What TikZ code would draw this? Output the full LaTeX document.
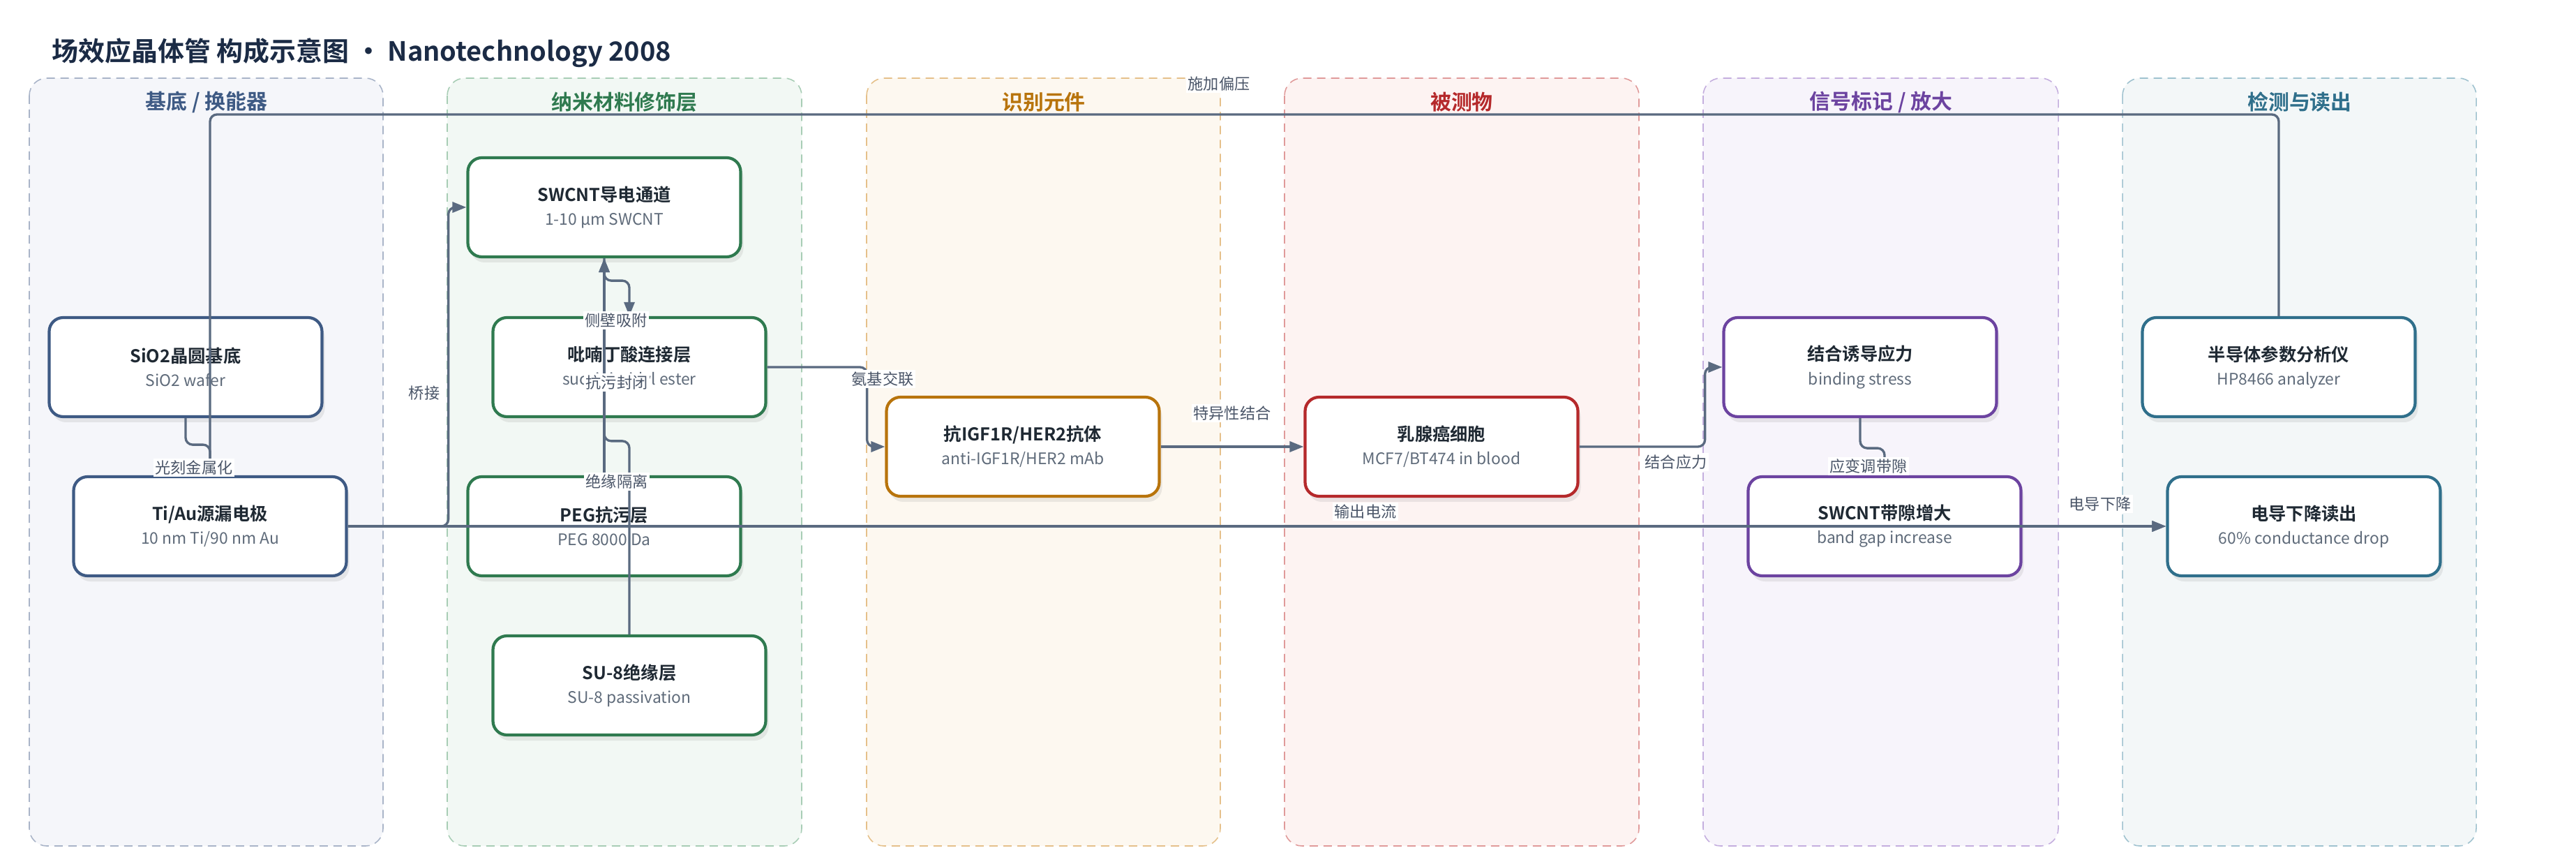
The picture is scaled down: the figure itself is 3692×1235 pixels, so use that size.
\documentclass[tikz,border=0pt]{standalone}
\usepackage{fontspec}
\setmainfont{Noto Sans CJK SC}[BoldFont={Noto Sans CJK SC Bold}]
\usetikzlibrary{arrows.meta,shadows}

\definecolor{titlec}{RGB}{27,43,69}
\definecolor{textc}{RGB}{31,41,51}
\definecolor{subc}{RGB}{95,107,122}
\definecolor{lblc}{RGB}{74,85,104}
\definecolor{edgec}{RGB}{90,106,128}
\definecolor{bluec}{RGB}{62,90,132}
\definecolor{blueb}{RGB}{169,180,200}
\definecolor{bluef}{RGB}{245,246,250}
\definecolor{greenc}{RGB}{47,122,79}
\definecolor{greenb}{RGB}{168,205,181}
\definecolor{greenf}{RGB}{242,248,244}
\definecolor{orangec}{RGB}{184,116,12}
\definecolor{orangeb}{RGB}{229,192,138}
\definecolor{orangef}{RGB}{253,248,240}
\definecolor{redc}{RGB}{181,41,43}
\definecolor{redb}{RGB}{224,154,154}
\definecolor{redf}{RGB}{253,243,242}
\definecolor{purplec}{RGB}{108,67,160}
\definecolor{purpleb}{RGB}{196,174,222}
\definecolor{purplef}{RGB}{247,244,251}
\definecolor{tealc}{RGB}{47,111,139}
\definecolor{tealb}{RGB}{159,194,207}
\definecolor{tealf}{RGB}{243,247,248}

\newcommand{\boxtext}[2]{{\fontsize{7.2}{9.7}\selectfont\bfseries\color{textc}#1}\\{\color{subc}#2}}

\tikzset{
  lane/.style n args={2}{draw=#1, fill=#2, line width=0.45pt, rounded corners=2.5mm,
    dash pattern=on 1.2mm off 0.8mm},
  lanetitle/.style={font=\fontsize{8.5}{10}\selectfont\bfseries, text=#1},
  box/.style={draw=#1, fill=white, line width=1.2pt, rounded corners=2mm,
    minimum width=39.1mm, minimum height=14.2mm, align=center,
    font=\fontsize{6.5}{9.7}\selectfont,
    drop shadow={opacity=0.15, shadow xshift=0.4mm, shadow yshift=-0.8mm}},
  edge/.style={draw=edgec, line width=0.95pt, rounded corners=1mm,
    -{Triangle[length=2mm,width=1.5mm]}},
  lbl/.style={font=\fontsize{6.3}{7}\selectfont, text=lblc, fill=white, inner sep=0.3mm}
}

\begin{document}
\begin{tikzpicture}[x=0.1mm,y=-0.1mm]
  \useasboundingbox (0,0) rectangle (3692,1235);
  % lanes
  \draw[lane={blueb}{bluef}] (42,112) rectangle (549,1212);
  \draw[lane={greenb}{greenf}] (641,112) rectangle (1149,1212);
  \draw[lane={orangeb}{orangef}] (1242,112) rectangle (1749,1212);
  \draw[lane={redb}{redf}] (1841,112) rectangle (2349,1212);
  \draw[lane={purpleb}{purplef}] (2441,112) rectangle (2950,1212);
  \draw[lane={tealb}{tealf}] (3042,112) rectangle (3549,1212);
  \node[lanetitle=bluec] (t1) at (296,146) {基底 / 换能器};
  \node[lanetitle=greenc] (t2) at (895,146) {纳米材料修饰层};
  \node[lanetitle=orangec] (t3) at (1496,146) {识别元件};
  \node[lanetitle=redc] (t4) at (2095,146) {被测物};
  \node[lanetitle=purplec] (t5) at (2696,146) {信号标记 / 放大};
  \node[lanetitle=tealc] (t6) at (3296,146) {检测与读出};

  \node[anchor=west, text=titlec, font=\fontsize{10.8}{12}\selectfont\bfseries] (title) at (62,76)
    {场效应晶体管 构成示意图 · Nanotechnology 2008};

  % boxes
  \node[box=bluec] (sio2) at (266,526) {\boxtext{SiO2晶圆基底}{SiO2 wafer}};
  \node[box=bluec] (tiau) at (301,754) {\boxtext{Ti/Au源漏电极}{10 nm Ti/90 nm Au}};
  \node[box=greenc] (swcnt) at (866,297) {\boxtext{SWCNT导电通道}{1-10 μm SWCNT}};
  \node[box=greenc] (pba) at (902,526) {\boxtext{吡喃丁酸连接层}{succinimidyl ester}};
  \node[box=greenc] (peg) at (866,754) {\boxtext{PEG抗污层}{PEG 8000 Da}};
  \node[box=greenc] (su8) at (902,982) {\boxtext{SU-8绝缘层}{SU-8 passivation}};
  \node[box=orangec] (ab) at (1466,640) {\boxtext{抗IGF1R/HER2抗体}{anti-IGF1R/HER2 mAb}};
  \node[box=redc] (cell) at (2066,640) {\boxtext{乳腺癌细胞}{MCF7/BT474 in blood}};
  \node[box=purplec] (stress) at (2666,526) {\boxtext{结合诱导应力}{binding stress}};
  \node[box=purplec] (gap) at (2701,754) {\boxtext{SWCNT带隙增大}{band gap increase}};
  \node[box=tealc] (analyzer) at (3266,526) {\boxtext{半导体参数分析仪}{HP8466 analyzer}};
  \node[box=tealc] (readout) at (3302,754) {\boxtext{电导下降读出}{60\% conductance drop}};

  % connectors
  \coordinate (biasrail) at (1700,164);
  \draw[edge] (analyzer.north) |- (biasrail) -| (tiau.north);
  \draw[edge] (sio2.south) -- ++(0,38) -| (tiau.north);
  \draw[edge] (tiau.east) -- ++(144,0) |- (swcnt.west);
  \draw[edge] (tiau.east) -- (readout.west);
  \draw[edge] (swcnt.south) -- ++(0,32) -| (pba.north);
  \draw[edge] (peg.north) -- (swcnt.south);
  \draw[edge] (su8.north) -- ++(0,-277) -| (swcnt.south);
  \draw[edge] (pba.east) -- ++(143,0) |- (ab.west);
  \draw[edge] (ab) -- (cell);
  \draw[edge] (cell.east) -- ++(180,0) |- (stress.west);
  \draw[edge] (stress.south) -- ++(0,43) -| (gap.north);
  \draw[edge] (gap.east) -- (readout.west);

  % labels
  \node[lbl] (lbias) at (1747,120) {施加偏压};
  \node[lbl] (llith) at (278,670) {光刻金属化};
  \node[lbl] (lbridge) at (608,563) {桥接};
  \node[lbl] (lout) at (1957,733) {输出电流};
  \node[lbl] (lside) at (883,459) {侧壁吸附};
  \node[lbl] (lfoul) at (884,548) {抗污封闭};
  \node[lbl] (linsul) at (884,690) {绝缘隔离};
  \node[lbl] (lamine) at (1265,543) {氨基交联};
  \node[lbl] (lspec) at (1766,592) {特异性结合};
  \node[lbl] (lstress) at (2402,662) {结合应力};
  \node[lbl] (lstrain) at (2678,668) {应变调带隙};
  \node[lbl] (ldrop) at (3010,722) {电导下降};
\end{tikzpicture}
\end{document}
